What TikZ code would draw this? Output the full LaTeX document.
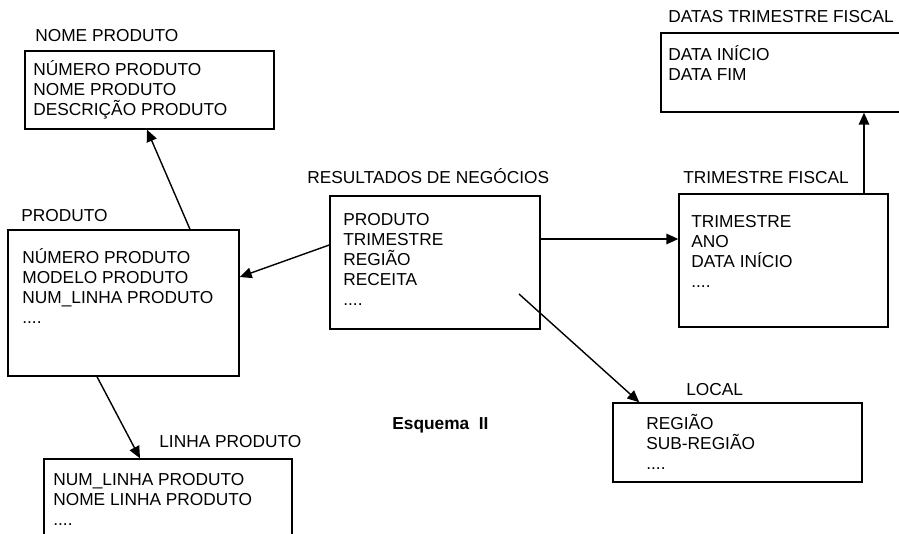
\documentclass[tikz,border=0pt]{standalone}
\usepackage{fontspec}
\setmainfont{Liberation Sans}
\usetikzlibrary{arrows.meta}

\newcommand{\firstline}{\rule{0pt}{9.5pt}}

\begin{document}
\begin{tikzpicture}[font=\fontsize{9.85}{11.4}\selectfont]
\useasboundingbox (0,0) rectangle (17.98,10.68);
\clip (0,0) rectangle (17.98,10.68);

\begin{scope}[every node/.style={rectangle,draw,line width=0.8pt}]
    \node[minimum width=4.98cm,minimum height=1.56cm] (NP) at (2.99,8.88) {};
    \node[minimum width=4.62cm,minimum height=2.92cm] (P) at (2.47,4.62) {};
    \node[minimum width=4.20cm,minimum height=2.66cm] (RN) at (8.70,5.43) {};
    \node[minimum width=4.18cm,minimum height=2.66cm] (TF) at (15.67,5.47) {};
    \node[minimum width=4.88cm,minimum height=1.58cm] (DT) at (15.66,9.23) {};
    \node[minimum width=4.98cm,minimum height=1.58cm] (L) at (14.75,1.83) {};
    \node[minimum width=4.96cm,minimum height=1.72cm] (LP) at (3.36,0.64) {};
\end{scope}

\begin{scope}[every node/.style={anchor=base west,inner sep=0}]
    \node (NPt) at (0.70,9.84) {NOME PRODUTO};
    \node (Pt) at (0.42,6.24) {PRODUTO};
    \node (RNt) at (6.14,7.00) {RESULTADOS DE NEGÓCIOS};
    \node (TFt) at (13.66,7.00) {TRIMESTRE FISCAL};
    \node (DTt) at (13.36,10.22) {DATAS TRIMESTRE FISCAL};
    \node (Lt) at (13.72,2.76) {LOCAL};
    \node (LPt) at (3.18,1.72) {LINHA PRODUTO};
    \node[font=\fontsize{9.85}{11.4}\selectfont\bfseries] (E) at (7.84,2.08) {Esquema\ \ II};
\end{scope}

\begin{scope}[every node/.style={anchor=north west,inner sep=0,align=left}]
    \node (NPx) at (0.66,9.515) {\firstline NÚMERO PRODUTO\\NOME PRODUTO\\DESCRIÇÃO PRODUTO};
    \node (Px) at (0.44,5.755) {\firstline NÚMERO PRODUTO\\MODELO PRODUTO\\NUM\_LINHA PRODUTO\\....};
    \node (RNx) at (6.86,6.515) {\firstline PRODUTO\\TRIMESTRE\\REGIÃO\\RECEITA\\....};
    \node (TFx) at (13.82,6.475) {\firstline TRIMESTRE\\ANO\\DATA INÍCIO\\....};
    \node (DTx) at (13.36,9.815) {\firstline DATA INÍCIO\\DATA FIM};
    \node (Lx) at (12.92,2.435) {\firstline REGIÃO\\SUB-REGIÃO\\....};
    \node (LPx) at (1.06,1.315) {\firstline NUM\_LINHA PRODUTO\\NOME LINHA PRODUTO\\....};
\end{scope}

\begin{scope}[>={Triangle[length=6.8pt,width=6pt]},
              every edge/.style={draw,line width=0.8pt}]
    \path [->] ([xshift=1.33cm]P.north) edge ([xshift=-0.05cm]NP.south);
    \path [->] ([yshift=0.35cm]RN.west) edge ([yshift=0.52cm]P.east);
    \path [->] ([yshift=0.47cm]RN.east) edge ([yshift=0.47cm]RN.east -| TF.west);
    \path [->] ([xshift=1.61cm]TF.north) edge ([xshift=1.61cm]TF.north |- DT.south);
    \path [->] ([xshift=1.68cm,yshift=-0.63cm]RN.center) edge ([xshift=0.54cm]L.north west);
    \path [->] ([xshift=-0.53cm]P.south) edge ([xshift=-0.56cm]LP.north);
\end{scope}
\end{tikzpicture}
\end{document}
